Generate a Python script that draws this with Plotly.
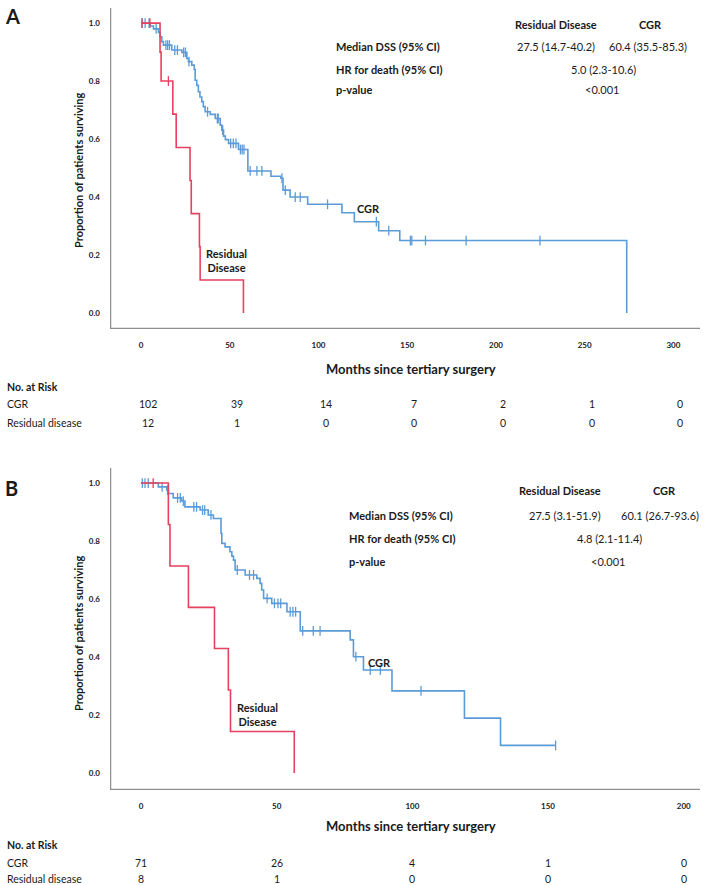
import numpy as np
import plotly.graph_objects as go

W, H = 708, 885

# ---------------- DATA ----------------
# Panel A (all patients): step times (months) and survival after each step
a_cgr_t = [5.1, 7.0, 9.8, 10.7, 11.7, 12.6, 17.3, 23.0, 25.8, 26.7, 28.6, 30.0, 30.5, 31.4, 32.3,
           33.2, 34.2, 35.1, 36.1, 39.0, 41.8, 44.6, 45.5, 46.5, 47.5, 49.3, 54.9, 60.2, 73.2,
           78.8, 80.0, 84.0, 93.9, 113.2, 120.2, 133.9, 145.8, 273.7]
a_cgr_s = [0.99, 0.98, 0.968, 0.953, 0.936, 0.924, 0.907, 0.899, 0.878, 0.867, 0.855, 0.84, 0.803,
           0.785, 0.763, 0.745, 0.729, 0.712, 0.694, 0.685, 0.671, 0.648, 0.631, 0.61, 0.598, 0.585,
           0.564, 0.49, 0.472, 0.465, 0.424, 0.40, 0.375, 0.346, 0.315, 0.284, 0.25, 0.0]
a_cgr_cens = [0.7, 2.3, 4.5, 8.5, 14, 15, 16, 19, 20.5, 24, 25, 27, 37.5, 43, 43.5, 46, 50.5, 52,
              53.5, 56, 57, 58, 61.5, 65.3, 68.1, 79.4, 81.3, 86.9, 89.7, 105.1, 132.6, 139.6,
              151.8, 152.6, 160.3, 183.2, 224.8]
a_rd_t = [10.7, 11.3, 17.9, 19.8, 27.6, 28.3, 32.9, 33.3, 57.7]
a_rd_s = [0.9, 0.8, 0.686, 0.571, 0.457, 0.343, 0.229, 0.114, 0.0]
a_rd_cens = [0.5, 5.0, 15.4]

# Panel B: step times and survival
b_cgr_t = [6.4, 9.5, 10.1, 11.9, 15.0, 16.2, 21.8, 24.8, 26.7, 29.5, 29.8, 31.0, 32.8, 33.5, 34.1,
           34.7, 38.4, 42.7, 43.9, 44.5, 45.2, 48.2, 53.8, 58.7, 77.1, 78.3, 82.0, 92.5, 119.2, 132.5]
b_cgr_s = [0.987, 0.976, 0.964, 0.949, 0.938, 0.918, 0.907, 0.89, 0.878, 0.827, 0.792, 0.78, 0.763,
           0.748, 0.734, 0.70, 0.683, 0.671, 0.654, 0.631, 0.602, 0.585, 0.556, 0.49, 0.459, 0.401,
           0.355, 0.283, 0.189, 0.095]
b_cgr_cens = [0.5, 1.5, 2.7, 7.8, 9.8, 13.5, 14.5, 15.6, 19.5, 20.5, 22.7, 23.5, 25.8, 35.5, 40,
              41.5, 46.5, 49.2, 50.5, 51.5, 55, 56, 57, 59.6, 63.5, 66, 79.2, 84.5, 88.2, 103.2, 152.8]
b_rd_t = [10.1, 10.7, 17.5, 27.1, 32.2, 33.0, 56.5]
b_rd_s = [0.857, 0.714, 0.571, 0.429, 0.286, 0.143, 0.0]
b_rd_cens = [4.5]

# Number at risk
a_risk_times = [0, 50, 100, 150, 200, 250, 300]
a_risk_cgr = [102, 39, 14, 7, 2, 1, 0]
a_risk_rd = [12, 1, 0, 0, 0, 0, 0]
b_risk_times = [0, 50, 100, 150, 200]
b_risk_cgr = [71, 26, 4, 1, 0]
b_risk_rd = [8, 1, 0, 0, 0]

# Statistics tables
a_stats = {"median": ("27.5 (14.7-40.2)", "60.4 (35.5-85.3)"), "hr": "5.0 (2.3-10.6)", "p": "<0.001"}
b_stats = {"median": ("27.5 (3.1-51.9)", "60.1 (26.7-93.6)"), "hr": "4.8 (2.1-11.4)", "p": "<0.001"}

BLUE = "#5b9bd8"
RED = "#e8405f"
FONT = "Lato"
TXT = "#1a1a1a"
AXC = "#8f8f8f"

A_XR = [-17.5, 315]
A_YR = [-0.055, 1.052]
B_XR = [-11.4, 206]
B_YR = [-0.059, 1.052]


def px(x):
    return x / W


def py(y):
    return 1 - y / H


def step_value(t, times, surv):
    s = 1.0
    for ti, si in zip(times, surv):
        if t >= ti:
            s = si
    return s


fig = go.Figure()

# axis frame lines (left + bottom), drawn as traces along the axis range edges
for xa, ya, xr, yr in [("x", "y", A_XR, A_YR), ("x2", "y2", B_XR, B_YR)]:
    fig.add_trace(go.Scatter(x=[xr[0], xr[0], xr[1]], y=[yr[1], yr[0], yr[0]], mode="lines",
                             line=dict(color=AXC, width=2.5), xaxis=xa, yaxis=ya, cliponaxis=False,
                             showlegend=False, hoverinfo="skip"))


def add_curves(times, surv, cens, color, xa, ya, end=None):
    xs = [0] + list(times)
    ys = [1.0] + list(surv)
    if end is not None:
        xs.append(end)
        ys.append(ys[-1])
    fig.add_trace(go.Scatter(x=xs, y=ys, mode="lines", line=dict(color=color, width=1.6, shape="hv"),
                             xaxis=xa, yaxis=ya, showlegend=False, hoverinfo="skip"))
    cy = [step_value(c, times, surv) for c in cens]
    fig.add_trace(go.Scatter(x=cens, y=cy, mode="markers",
                             marker=dict(symbol="line-ns", size=7, line=dict(color=color, width=1.3)),
                             xaxis=xa, yaxis=ya, showlegend=False, hoverinfo="skip"))


add_curves(a_cgr_t, a_cgr_s, a_cgr_cens, BLUE, "x", "y")
add_curves(a_rd_t, a_rd_s, a_rd_cens, RED, "x", "y")
add_curves(b_cgr_t, b_cgr_s, b_cgr_cens, BLUE, "x2", "y2", end=152.8)
add_curves(b_rd_t, b_rd_s, b_rd_cens, RED, "x2", "y2")

axis_common = dict(showgrid=False, zeroline=False, showline=False,
                   ticks="", tickfont=dict(family=FONT, size=8, color=TXT, weight="bold"))

fig.update_layout(
    width=W, height=H, margin=dict(l=0, r=0, t=0, b=0),
    paper_bgcolor="white", plot_bgcolor="white",
    xaxis=dict(domain=[px(110), px(700)], anchor="y", range=A_XR,
               tickvals=a_risk_times, ticklabelstandoff=10, **axis_common),
    yaxis=dict(domain=[py(329), py(8)], anchor="x", range=A_YR,
               tickvals=[0, 0.2, 0.4, 0.6, 0.8, 1.0], tickformat=".1f", ticklabelstandoff=9, **axis_common),
    xaxis2=dict(domain=[px(110), px(700)], anchor="y2", range=B_XR,
                tickvals=b_risk_times, ticklabelstandoff=10, **axis_common),
    yaxis2=dict(domain=[py(790), py(468)], anchor="x2", range=B_YR,
                tickvals=[0, 0.2, 0.4, 0.6, 0.8, 1.0], tickformat=".1f", ticklabelstandoff=9, **axis_common),
)

ann = []


def text(x, y, s, size=11, bold=False, xanchor="left", xref="paper", angle=0, yref="paper"):
    ann.append(dict(x=x, y=y, xref=xref, yref=yref, text=s, showarrow=False, xanchor=xanchor,
                    yanchor="middle", textangle=angle,
                    font=dict(family=FONT, size=size, color=TXT, weight="bold" if bold else "normal")))


# Panel letters
text(px(3), py(16), "A", size=20, bold=True)
text(px(3), py(488), "B", size=20, bold=True)

# Y axis titles
text(px(78), py(170), "Proportion of patients surviving", size=11, bold=True, xanchor="center", angle=-90)
text(px(78), py(633), "Proportion of patients surviving", size=11, bold=True, xanchor="center", angle=-90)

# X axis titles
text(px(411), py(369), "Months since tertiary surgery", size=13, bold=True, xanchor="center")
text(px(411), py(826), "Months since tertiary surgery", size=13, bold=True, xanchor="center")

# Stats table A
S = 11
text(px(556), py(25), "Residual Disease", size=S, bold=True, xanchor="center")
text(px(650), py(25), "CGR", size=S, bold=True, xanchor="center")
text(px(334), py(47), "Median DSS (95% CI)", size=S, bold=True)
text(px(334), py(69), "HR for death (95% CI)", size=S, bold=True)
text(px(334), py(90), "p-value", size=S, bold=True)
text(px(556), py(47), a_stats["median"][0], size=S, xanchor="center")
text(px(648), py(47), a_stats["median"][1], size=S, xanchor="center")
text(px(603), py(69), a_stats["hr"], size=S, xanchor="center")
text(px(602), py(90), a_stats["p"], size=S, xanchor="center")

# Stats table B
text(px(560), py(491), "Residual Disease", size=S, bold=True, xanchor="center")
text(px(664), py(491), "CGR", size=S, bold=True, xanchor="center")
text(px(347), py(515), "Median DSS (95% CI)", size=S, bold=True)
text(px(347), py(538), "HR for death (95% CI)", size=S, bold=True)
text(px(347), py(561), "p-value", size=S, bold=True)
text(px(565), py(515), b_stats["median"][0], size=S, xanchor="center")
text(px(660), py(515), b_stats["median"][1], size=S, xanchor="center")
text(px(609), py(538), b_stats["hr"], size=S, xanchor="center")
text(px(608), py(561), b_stats["p"], size=S, xanchor="center")

# Curve labels
text(128, 0.36, "CGR", size=11, bold=True, xanchor="center", xref="x", yref="y")
text(48, 0.18, "Residual<br>Disease", size=11, bold=True, xanchor="center", xref="x", yref="y")
text(88, 0.381, "CGR", size=11, bold=True, xanchor="center", xref="x2", yref="y2")
text(43, 0.2, "Residual<br>Disease", size=11, bold=True, xanchor="center", xref="x2", yref="y2")

# Risk tables
R = 10.5
text(px(5), py(387), "No. at Risk", size=R, bold=True)
text(px(5), py(404), "CGR", size=R)
text(px(5), py(423), "Residual disease", size=R)
for t, c, r in zip(a_risk_times, a_risk_cgr, a_risk_rd):
    text(t + 4, py(404), str(c), size=R, xanchor="center", xref="x")
    text(t + 4, py(423), str(r), size=R, xanchor="center", xref="x")

text(px(5), py(845), "No. at Risk", size=R, bold=True)
text(px(5), py(863), "CGR", size=R)
text(px(5), py(879), "Residual disease", size=R)
for t, c, r in zip(b_risk_times, b_risk_cgr, b_risk_rd):
    text(t, py(863), str(c), size=R, xanchor="center", xref="x2")
    text(t, py(879), str(r), size=R, xanchor="center", xref="x2")

fig.update_layout(annotations=ann)
fig.write_html("out.html", config={"displayModeBar": False},
               post_script="document.body.style.margin='0';document.body.style.overflow='hidden';")
